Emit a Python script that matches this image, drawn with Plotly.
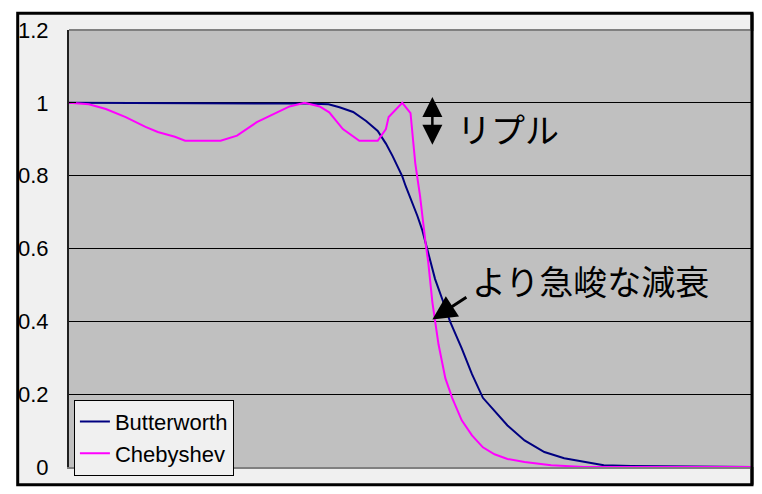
import plotly.graph_objects as go

# Butterworth (navy)
bw_x = [0, 30.1, 34.8, 38.0, 39.6, 41.6, 43.5, 45.2, 46.4, 47.4, 48.8, 49.3, 50.3, 51.0, 51.7,
        52.2, 52.9, 53.6, 54.8, 55.8, 57.5, 59.0, 60.6, 62.3, 64.2, 66.7, 69.6, 72.5, 75.4,
        78.3, 82.3, 90, 100]
bw_y = [1.0, 0.999, 0.998, 0.996, 0.988, 0.975, 0.950, 0.923, 0.888, 0.853, 0.798, 0.771, 0.725,
        0.690, 0.652, 0.616, 0.570, 0.516, 0.453, 0.399, 0.326, 0.255, 0.190, 0.155, 0.114,
        0.073, 0.041, 0.024, 0.014, 0.005, 0.003, 0.001, 0.0]

# Chebyshev (magenta)
ch_x = [0, 2.9, 5.4, 8.3, 11.2, 13.0, 15.5, 17.0, 22.2, 24.6, 27.5, 30.4, 32.3, 34.5, 36.7,
        38.1, 40.1, 42.5, 45.2, 46.4, 46.8, 48.8, 50.0, 50.7, 51.4, 52.2, 52.6, 53.2, 53.6,
        54.1, 55.1, 56.1, 57.5, 59.0, 60.6, 62.3, 64.2, 66.7, 70.6, 75.4, 100]
ch_y = [1.0, 0.996, 0.983, 0.961, 0.934, 0.920, 0.907, 0.896, 0.896, 0.910, 0.947, 0.974, 0.990,
        1.0, 0.990, 0.974, 0.928, 0.896, 0.896, 0.928, 0.961, 1.0, 0.972, 0.834, 0.744, 0.616,
        0.562, 0.453, 0.399, 0.337, 0.244, 0.190, 0.128, 0.087, 0.054, 0.035, 0.022, 0.014,
        0.005, 0.0, 0.0]

y_ticks = [0, 0.2, 0.4, 0.6, 0.8, 1.0, 1.2]
y_labels = ["0", "0.2", "0.4", "0.6", "0.8", "1", "1.2"]

fig = go.Figure()
fig.add_trace(go.Scatter(x=bw_x, y=bw_y, mode="lines", name="Butterworth",
                         line=dict(color="#000080", width=2)))
fig.add_trace(go.Scatter(x=ch_x, y=ch_y, mode="lines", name="Chebyshev",
                         line=dict(color="#FF00FF", width=2)))

# outer frame and gray plot area
fig.add_shape(type="rect", xref="paper", yref="paper", x0=-0.0751, x1=1.0, y0=-0.0407, y1=1.0385,
              fillcolor="#F0F0F0", line=dict(color="black", width=3), layer="below")
fig.add_shape(type="rect", xref="paper", yref="paper", x0=0, x1=1.004, y0=0, y1=1,
              fillcolor="#C0C0C0", line=dict(width=0), layer="below")
fig.add_shape(type="line", xref="paper", yref="paper", x0=0, x1=1.004, y0=1, y1=1,
              line=dict(color="#808080", width=2), layer="above")
fig.add_shape(type="line", xref="paper", yref="paper", x0=1.0, x1=1.0, y0=-0.0407, y1=1.0385,
              line=dict(color="black", width=3), layer="above")

jp = "Noto Sans CJK JP"
# ripple double arrow
fig.add_annotation(x=53.2, y=0.885, ax=53.2, ay=1.02, xref="x", yref="y", axref="x", ayref="y",
                   text="", showarrow=True, arrowhead=2, startarrowhead=2, arrowside="end+start",
                   arrowsize=1.6, startarrowsize=1.6, arrowwidth=2.5, arrowcolor="black")
fig.add_annotation(x=64.3, y=0.929, text="リプル", showarrow=False,
                   font=dict(family=jp, size=34, color="black"))
# steeper roll-off arrow
fig.add_annotation(x=53.2, y=0.405, ax=58.4, ay=0.469, xref="x", yref="y", axref="x", ayref="y",
                   text="", showarrow=True, arrowhead=2, arrowsize=1.6, arrowwidth=3,
                   arrowcolor="black")
fig.add_annotation(x=76.4, y=0.512, text="より急峻な減衰", showarrow=False,
                   font=dict(family=jp, size=34, color="black"))

# page body adds 8px, so the figure is shifted back by that amount
fig.update_layout(
    width=754, height=486,
    margin=dict(l=52, r=10, t=17, b=27),
    paper_bgcolor="white",
    plot_bgcolor="rgba(0,0,0,0)",
    showlegend=True,
    legend=dict(x=0.0072, y=0.1538, xanchor="left", yanchor="top",
                bgcolor="#F0F0F0", bordercolor="black", borderwidth=1,
                font=dict(family="Liberation Sans", size=22, color="black"),
                tracegroupgap=0),
    xaxis=dict(range=[0, 100], showticklabels=False, showgrid=False, zeroline=False,
               showline=True, linecolor="#808080", linewidth=2, ticks=""),
    yaxis=dict(range=[0, 1.2], tickvals=y_ticks, ticktext=y_labels, showgrid=True,
               gridcolor="black", gridwidth=1, zeroline=False, showline=True,
               linecolor="#202020", linewidth=2, ticks="inside", ticklen=7,
               tickcolor="black", ticklabelstandoff=14,
               tickfont=dict(family="Liberation Sans", size=22, color="black")),
)

fig.write_html("out.html")
